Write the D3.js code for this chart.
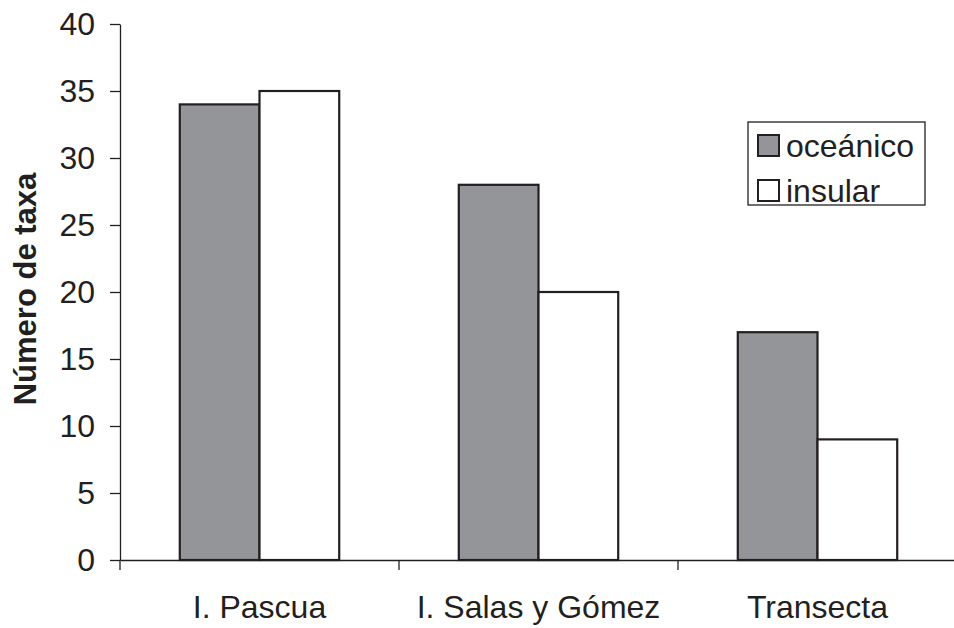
<!DOCTYPE html>
<html>
<head>
<meta charset="utf-8">
<script src="https://cdn.jsdelivr.net/npm/d3@7"></script>
<style>
  html, body { margin: 0; padding: 0; background: #fff; }
  svg { display: block; font-family: "Liberation Sans", Arial, sans-serif; }
</style>
</head>
<body>
<script>
// Número de taxa por zona y afinidad
const categories = ["I. Pascua", "I. Salas y Gómez", "Transecta"];
const seriesNames = ["oceánico", "insular"];
const oceanico = [34, 28, 17];
const insular = [35, 20, 9];
const yTicks = [0, 5, 10, 15, 20, 25, 30, 35, 40];

const W = 954, H = 628;
const plotLeft = 120, plotRight = 957, plotTop = 24, plotBottom = 560;
const ink = "#231f20";
const fills = ["#939598", "#ffffff"];
const fontSize = "32px";

const svg = d3.select("body").append("svg").attr("width", W).attr("height", H);

const x = d3.scaleBand().domain(categories).range([plotLeft, plotRight]).padding(0);
const xs = d3.scaleBand().domain(seriesNames).range([0, x.bandwidth()]).paddingInner(0).paddingOuter(0.75);
const y = d3.scaleLinear().domain([0, 40]).range([plotBottom, plotTop]);

const rows = categories.map((c, i) => ({ cat: c, values: [oceanico[i], insular[i]] }));

// bars
const groups = svg.append("g").selectAll("g").data(rows).join("g")
  .attr("transform", d => `translate(${x(d.cat)},0)`);
groups.selectAll("rect").data(d => d.values.map((v, j) => ({ s: seriesNames[j], v, j })))
  .join("rect")
  .attr("x", d => xs(d.s))
  .attr("y", d => y(d.v))
  .attr("width", xs.bandwidth())
  .attr("height", d => y(0) - y(d.v))
  .attr("fill", d => fills[d.j])
  .attr("stroke", ink)
  .attr("stroke-width", 2.2);

// y axis
const yAxis = svg.append("g").attr("transform", `translate(${plotLeft},0)`)
  .call(d3.axisLeft(y).tickValues(yTicks).tickSize(10).tickPadding(15).tickSizeOuter(0));
yAxis.select(".domain").attr("stroke", ink).attr("stroke-width", 1.3);
yAxis.selectAll(".tick line").attr("stroke", ink).attr("stroke-width", 1.3);
yAxis.selectAll("text").attr("fill", ink).style("font-size", fontSize).style("font-family", "Liberation Sans, Arial, sans-serif");

// x axis: labels centred under each group, ticks at group boundaries
const xAxis = svg.append("g").attr("transform", `translate(0,${plotBottom})`)
  .call(d3.axisBottom(x).tickSize(0).tickPadding(35).tickSizeOuter(0));
xAxis.select(".domain").attr("stroke", ink).attr("stroke-width", 1.3);
xAxis.selectAll("text").attr("fill", ink).style("font-size", fontSize).style("font-family", "Liberation Sans, Arial, sans-serif");
svg.append("g").selectAll("line").data(categories)
  .join("line")
  .attr("x1", d => x(d)).attr("x2", d => x(d))
  .attr("y1", plotBottom).attr("y2", plotBottom + 10)
  .attr("stroke", ink).attr("stroke-width", 1.3);

// y title
svg.append("text")
  .attr("transform", `translate(36,${(plotTop + plotBottom) / 2 - 3}) rotate(-90)`)
  .attr("text-anchor", "middle")
  .attr("fill", ink)
  .style("font-size", "31px")
  .style("font-weight", "bold")
  .text("Número de taxa");

// legend
const lg = svg.append("g").attr("transform", "translate(748,122)");
lg.append("rect").attr("width", 177).attr("height", 83)
  .attr("fill", "#fff").attr("stroke", ink).attr("stroke-width", 1.3);
const items = lg.selectAll("g.item").data(seriesNames).join("g").attr("class", "item")
  .attr("transform", (d, i) => `translate(10,${13 + i * 45})`);
items.append("rect").attr("width", 21).attr("height", 21)
  .attr("fill", (d, i) => fills[i]).attr("stroke", ink).attr("stroke-width", 2);
items.append("text").attr("x", 28).attr("y", 22)
  .attr("fill", ink).style("font-size", fontSize).text(d => d);
</script>
</body>
</html>
